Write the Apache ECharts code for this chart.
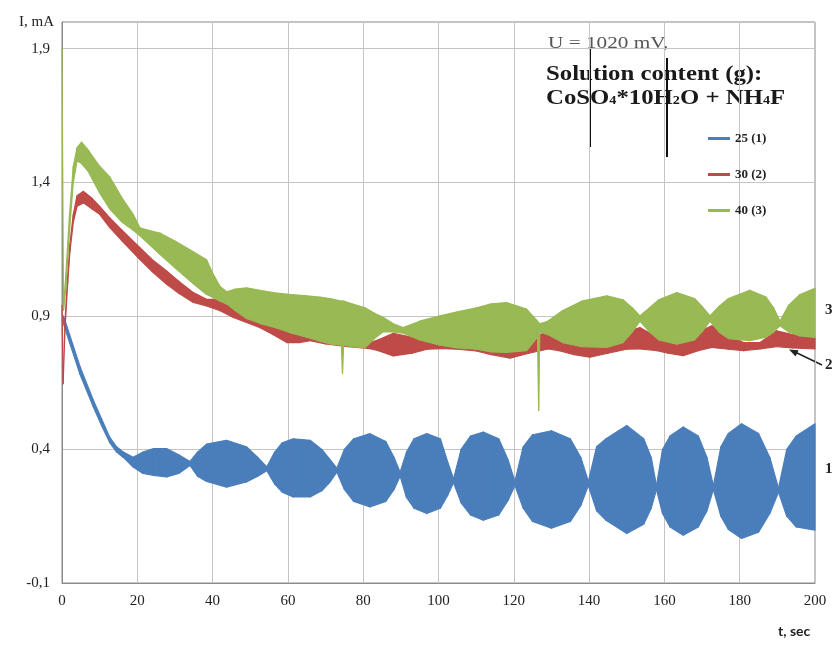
<!DOCTYPE html>
<html><head><meta charset="utf-8">
<script src="https://cdn.jsdelivr.net/npm/echarts@6/dist/echarts.min.js"></script>
<style>html,body{margin:0;padding:0;background:#fff}#c{width:835px;height:648px}</style>
</head><body><div id="c"></div>
<script>
// ---- data (envelopes of the oscillating currents) ----
const seriesNames = ['25 (1)', '30 (2)', '40 (3)'];
const xTicks = [0, 20, 40, 60, 80, 100, 120, 140, 160, 180, 200];
const yTicks = [-0.1, 0.4, 0.9, 1.4, 1.9];

const tBlue = [0.4,2,4.8,8.3,10.5,12.7,14.5,16.3,18.9,21.5,24.3,27.8,31,34,36,38.4,43.7,49,52,54.4,56.5,58.5,61.4,65.9,69,71.3,73,75,77.5,81.8,86,88.2,89.8,91.5,93.5,96.9,100.5,102.5,104,106,108.5,111.9,116,118.5,120.3,122.5,125,130,135,137.8,139.8,142,144.5,150,154.5,156.5,157.9,159.5,161.5,165,169,171.3,173,175,177,180.5,185,188,190.3,192.5,195,200];
const blueLow = [0.87,0.80,0.68,0.56,0.49,0.425,0.39,0.37,0.334,0.31,0.303,0.297,0.31,0.34,0.30,0.28,0.259,0.278,0.30,0.32,0.27,0.24,0.222,0.222,0.245,0.28,0.315,0.25,0.205,0.185,0.205,0.25,0.30,0.22,0.18,0.16,0.18,0.23,0.275,0.20,0.155,0.135,0.155,0.21,0.265,0.18,0.13,0.105,0.13,0.19,0.265,0.17,0.135,0.085,0.12,0.18,0.25,0.16,0.11,0.079,0.11,0.17,0.25,0.15,0.10,0.067,0.09,0.16,0.24,0.15,0.11,0.098];
const blueHigh = [0.90,0.83,0.71,0.585,0.515,0.445,0.41,0.39,0.371,0.39,0.403,0.403,0.38,0.355,0.39,0.42,0.434,0.41,0.37,0.335,0.39,0.425,0.44,0.434,0.40,0.36,0.33,0.40,0.44,0.459,0.43,0.37,0.315,0.39,0.44,0.459,0.44,0.35,0.29,0.40,0.45,0.465,0.44,0.36,0.28,0.41,0.455,0.47,0.44,0.37,0.28,0.41,0.44,0.49,0.44,0.37,0.265,0.40,0.45,0.484,0.45,0.37,0.265,0.41,0.46,0.496,0.46,0.37,0.255,0.40,0.45,0.496];

const tRed = [0,0.3,0.8,1.5,2.1,3,4,5.7,8,10,12.7,16,20.7,24,27.8,31,34.9,38.4,42,45.5,49,52.6,56,59.7,63,65.9,70,76,81.8,84,88,93,97,101.2,105,110,114,119,124,129.2,132.3,136,140.2,145,150,153.5,158,161,165,169,172.6,177,181,185.4,189.8,194,200];
const redLow = [0.92,0.646,0.85,1.02,1.14,1.25,1.31,1.323,1.30,1.28,1.23,1.18,1.111,1.065,1.018,0.985,0.95,0.937,0.919,0.894,0.875,0.856,0.83,0.80,0.80,0.807,0.795,0.785,0.777,0.77,0.75,0.76,0.775,0.777,0.775,0.769,0.755,0.742,0.76,0.776,0.769,0.755,0.745,0.76,0.775,0.776,0.77,0.76,0.751,0.77,0.782,0.775,0.77,0.776,0.785,0.78,0.776];
const redHigh = [0.94,0.66,0.88,1.05,1.17,1.28,1.35,1.366,1.34,1.31,1.267,1.22,1.155,1.11,1.068,1.03,0.987,0.962,0.962,0.944,0.92,0.90,0.875,0.856,0.845,0.832,0.83,0.815,0.80,0.81,0.835,0.82,0.80,0.794,0.80,0.80,0.80,0.79,0.81,0.844,0.807,0.80,0.80,0.81,0.84,0.856,0.82,0.80,0.80,0.84,0.863,0.83,0.80,0.80,0.844,0.83,0.819];

const tGreen = [0,0.4,1,2,3,4,5.2,7,10,12.7,16,18.9,20.7,23,26,30,34.9,38.4,40,42,43.7,46,49,53,57,61,65,68.5,71.2,74.2,74.5,74.8,77,80.5,83,85.3,88,90.6,95,100.4,105,110.1,114,118.1,123.4,126.3,126.6,126.9,129,133,138,144.7,149,151.5,153.5,156,158.5,163.3,168,170,172.1,174.5,177,182.7,187,189,190.7,193,196,200];
const greenLow = [1.88,0.92,1.00,1.22,1.40,1.48,1.47,1.44,1.36,1.30,1.25,1.22,1.20,1.17,1.13,1.08,1.02,0.98,0.97,0.955,0.945,0.92,0.89,0.87,0.855,0.835,0.82,0.805,0.795,0.79,0.684,0.79,0.785,0.78,0.815,0.84,0.84,0.835,0.81,0.79,0.78,0.775,0.765,0.763,0.77,0.82,0.546,0.84,0.83,0.80,0.785,0.782,0.80,0.84,0.88,0.84,0.81,0.794,0.81,0.84,0.88,0.84,0.815,0.807,0.82,0.84,0.863,0.84,0.825,0.819];
const greenHigh = [1.90,0.94,1.05,1.28,1.46,1.53,1.55,1.52,1.46,1.42,1.34,1.28,1.23,1.22,1.21,1.18,1.14,1.11,1.06,1.01,0.99,1.00,1.005,0.995,0.985,0.98,0.975,0.97,0.965,0.955,0.955,0.955,0.945,0.93,0.91,0.895,0.87,0.856,0.88,0.90,0.915,0.93,0.945,0.95,0.925,0.88,0.875,0.87,0.88,0.92,0.955,0.975,0.96,0.93,0.90,0.93,0.96,0.987,0.965,0.935,0.90,0.935,0.965,0.996,0.97,0.93,0.881,0.94,0.98,1.003];

const colors = ['#4A7EBB', '#BE4B48', '#98B954'];
// ---------------------------------------------------------------------------

const SERIF = '"Liberation Serif", "Times New Roman", serif';

// Each series is drawn as a filled band between its lower and upper envelope,
// one quad per data interval, positioned with the axes' own scales (api.coord).
function band(name, t, lo, hi, color) {
  const n = t.length;
  return {
    name: name, type: 'custom', coordinateSystem: 'cartesian2d',
    data: t.map((x, i) => [x, lo[i], hi[i]]),
    encode: { x: 0, y: [1, 2] },
    itemStyle: { color: color },
    renderItem: function (params, api) {
      const i = params.dataIndex;
      if (i >= n - 1) return null;
      const a = api.coord([api.value(0), api.value(1)]);
      const b = api.coord([api.value(0), api.value(2)]);
      const c = api.coord([t[i + 1], hi[i + 1]]);
      const d = api.coord([t[i + 1], lo[i + 1]]);
      return {
        type: 'polygon',
        shape: { points: [a, b, c, d] },
        style: { fill: color, stroke: color, lineWidth: 1.2, lineJoin: 'round' },
        silent: true
      };
    }
  };
}

const chart = echarts.init(document.getElementById('c'), null, { renderer: 'canvas' });
const fmt = v => v > 1.95 ? '' : v.toFixed(1).replace('.', ',');

chart.setOption({
  animation: false,
  backgroundColor: '#fff',
  grid: { left: 62, right: 20, top: 22, bottom: 65, show: true, borderColor: '#8a8a8a', borderWidth: 1 },
  legend: {
    data: seriesNames, orient: 'vertical', left: 703, top: 127, itemGap: 23,
    icon: 'rect', itemWidth: 22, itemHeight: 3,
    textStyle: { fontFamily: SERIF, fontWeight: 'bold', fontSize: 13, color: '#222' }
  },
  xAxis: {
    type: 'value', min: xTicks[0], max: xTicks[xTicks.length - 1], interval: 20,
    axisLine: { show: true, onZero: false, lineStyle: { color: '#8a8a8a' } },
    axisTick: { show: false },
    splitLine: { show: true, lineStyle: { color: '#c4c4c4', width: 1 } },
    axisLabel: { fontFamily: SERIF, fontSize: 15, color: '#222', margin: 11 }
  },
  yAxis: {
    type: 'value', min: yTicks[0], max: 2.0, interval: 0.5,
    name: 'I, mA', nameLocation: 'end', nameGap: 0,
    nameTextStyle: { fontFamily: SERIF, fontSize: 15, color: '#222', align: 'right', verticalAlign: 'middle', padding: [0, 8, 0, 0] },
    axisLine: { show: true, onZero: false, lineStyle: { color: '#8a8a8a' } },
    axisTick: { show: false },
    splitLine: { show: true, lineStyle: { color: '#c4c4c4', width: 1 } },
    axisLabel: { fontFamily: SERIF, fontSize: 15, color: '#222', margin: 12, formatter: fmt }
  },
  series: [
    band(seriesNames[0], tBlue, blueLow, blueHigh, colors[0]),
    band(seriesNames[1], tRed, redLow, redHigh, colors[1]),
    band(seriesNames[2], tGreen, greenLow, greenHigh, colors[2])
  ],
  graphic: [
    { type: 'text', left: 548, top: 35, scaleX: 1.25,
      style: { text: 'U = 1020 mV,', font: '17px ' + SERIF, fill: '#555' } },
    { type: 'text', left: 546, top: 65, scaleX: 1.24,
      style: { text: 'Solution content (g):', font: 'bold 20px ' + SERIF, fill: '#1a1a1a' } },
    { type: 'text', left: 546, top: 88, scaleX: 1.18,
      style: {
        text: '{n|CoSO}{s|4}{n|*10H}{s|2}{n|O + NH}{s|4}{n|F}',
        fill: '#1a1a1a',
        rich: {
          n: { fontFamily: SERIF, fontWeight: 'bold', fontSize: 21, fill: '#1a1a1a', verticalAlign: 'bottom' },
          s: { fontFamily: SERIF, fontWeight: 'bold', fontSize: 12, fill: '#1a1a1a', verticalAlign: 'bottom', padding: [0, 0, 2, 0] }
        }
      } },
    { type: 'line', shape: { x1: 590, y1: 48, x2: 590, y2: 147 }, style: { stroke: '#111', lineWidth: 2 } },
    { type: 'line', shape: { x1: 667, y1: 58, x2: 667, y2: 157 }, style: { stroke: '#111', lineWidth: 2 } },
    { type: 'text', left: 825, top: 303, style: { text: '3', font: 'bold 15px ' + SERIF, fill: '#222' } },
    { type: 'text', left: 825, top: 358, style: { text: '2', font: 'bold 15px ' + SERIF, fill: '#222' } },
    { type: 'text', left: 825, top: 462, style: { text: '1', font: 'bold 15px ' + SERIF, fill: '#222' } },
    { type: 'line', shape: { x1: 822, y1: 365, x2: 795, y2: 352 }, style: { stroke: '#222', lineWidth: 1.5 } },
    { type: 'polygon', shape: { points: [[789, 349.5], [798.6, 350.2], [795.6, 356.5]] }, style: { fill: '#222' } },
    { type: 'text', left: 778, top: 624,
      style: { text: 't, sec', font: 'bold 14px Lato, "Open Sans", sans-serif', fill: '#222' } }
  ]
});
</script>
</body></html>
